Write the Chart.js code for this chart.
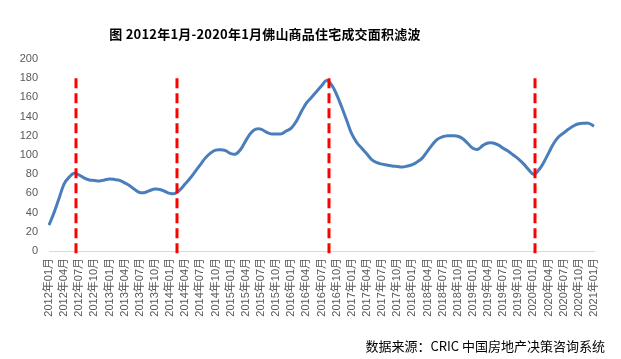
<!DOCTYPE html>
<html>
<head>
<meta charset="utf-8">
<script src="https://cdn.jsdelivr.net/npm/chart.js@4/dist/chart.umd.min.js"></script>
<style>
  html, body { margin: 0; padding: 0; background: #ffffff; }
  #wrap { position: relative; width: 621px; height: 359px; overflow: hidden; }
  #chart { position: absolute; left: 0; top: 0; }
  #title { position: absolute; left: 0; top: 24px; width: 530px; text-align: center;
           font-family: "Noto Sans CJK SC", "DejaVu Sans", sans-serif; font-weight: bold;
           font-size: 13px; color: #000; white-space: nowrap; letter-spacing: 0.2px; }
  #source { position: absolute; right: 16px; top: 336px; text-align: right;
            font-family: "Noto Sans CJK SC", "DejaVu Sans", sans-serif;
            font-size: 13px; color: #000; white-space: nowrap; }
</style>
</head>
<body>
<div id="wrap">
  <canvas id="chart" width="621" height="359"></canvas>
  <div id="title">图 2012年1月-2020年1月佛山商品住宅成交面积滤波</div>
  <div id="source">数据来源：CRIC 中国房地产决策咨询系统</div>
</div>
<script>
// Monthly categories 2012年01月 .. 2021年01月
const months = [];
for (let y = 2012; y <= 2021; y++) {
  for (let m = 1; m <= 12; m++) {
    if (y === 2021 && m > 1) break;
    months.push(y + '年' + String(m).padStart(2, '0') + '月');
  }
}

// Filtered transaction area
const areaValues = [
  27, 40, 55, 70, 77, 81, 79, 76, 74, 73.5, 73, 74,
  75, 74.5, 73.5, 71, 68, 64, 61, 61, 63, 64.5, 64, 62,
  60, 60, 64, 70, 76, 83, 90, 97, 102, 105, 105.5, 104.5,
  101.5, 101, 106, 115, 123, 127, 127, 124, 122, 122, 122, 125,
  128, 135, 145, 154, 160, 166, 172, 177.5, 173, 163, 150, 136,
  122, 113, 107, 101, 95, 92, 90.5, 89.5, 88.5, 88, 87.5, 88.5,
  90, 93, 97, 104, 111, 116.5, 119, 120, 120, 119.5, 117, 112,
  107, 106, 110, 112.5, 112.5, 110.5, 107, 104, 100, 96, 91, 85,
  80, 84, 92, 102, 112, 119, 123, 127, 130.5, 132.5, 133, 133,
  130
];

// Months marked with red dashed lines
const markerMonths = ['2012年06月', '2014年02月', '2016年08月', '2020年01月'];
const markerTop = 180;

const yTicks = [0, 20, 40, 60, 80, 100, 120, 140, 160, 180, 200];

const markerPlugin = {
  id: 'markers',
  afterDatasetsDraw(chart) {
    const xs = chart.scales.x, ys = chart.scales.y, ctx = chart.ctx;
    ctx.save();
    ctx.strokeStyle = '#FF0000';
    ctx.lineWidth = 3;
    ctx.setLineDash([10, 5]);
    markerMonths.forEach(m => {
      const idx = months.indexOf(m);
      const x = Math.round(xs.getPixelForValue(idx + 0.4));
      ctx.beginPath();
      ctx.moveTo(x, ys.getPixelForValue(markerTop));
      ctx.lineTo(x, chart.chartArea.bottom + 3);
      ctx.stroke();
    });
    ctx.restore();
  }
};

new Chart(document.getElementById('chart'), {
  type: 'line',
  data: {
    labels: months,
    datasets: [{
      data: areaValues,
      borderColor: '#4A7EBB',
      borderWidth: 3,
      pointRadius: 0,
      tension: 0.4,
      fill: false
    }]
  },
  options: {
    responsive: false,
    animation: false,
    layout: { padding: { top: 59, right: 27, bottom: 38, left: 0 } },
    plugins: { legend: { display: false }, tooltip: { enabled: false }, title: { display: false } },
    scales: {
      x: {
        offset: false,
        grid: { display: false, drawTicks: false },
        border: { display: true, color: '#D9D9D9', width: 1 },
        ticks: {
          autoSkip: false,
          minRotation: 90,
          maxRotation: 90,
          padding: 7,
          color: '#595959',
          font: { family: '"Liberation Sans", "Noto Sans CJK SC", sans-serif', size: 11 },
          callback: function(v, i) { return i % 3 === 0 ? months[i] : null; }
        },
        afterFit(scale) { scale.height = 70; }
      },
      y: {
        min: 0, max: 200,
        afterBuildTicks(scale) { scale.ticks = yTicks.map(v => ({ value: v })); },
        grid: { display: false, drawTicks: false },
        border: { display: false },
        ticks: {
          padding: 11,
          color: '#595959',
          font: { family: '"Liberation Sans", sans-serif', size: 11 }
        },
        afterFit(scale) { scale.width = 49; }
      }
    }
  },
  plugins: [markerPlugin]
});
</script>
</body>
</html>
